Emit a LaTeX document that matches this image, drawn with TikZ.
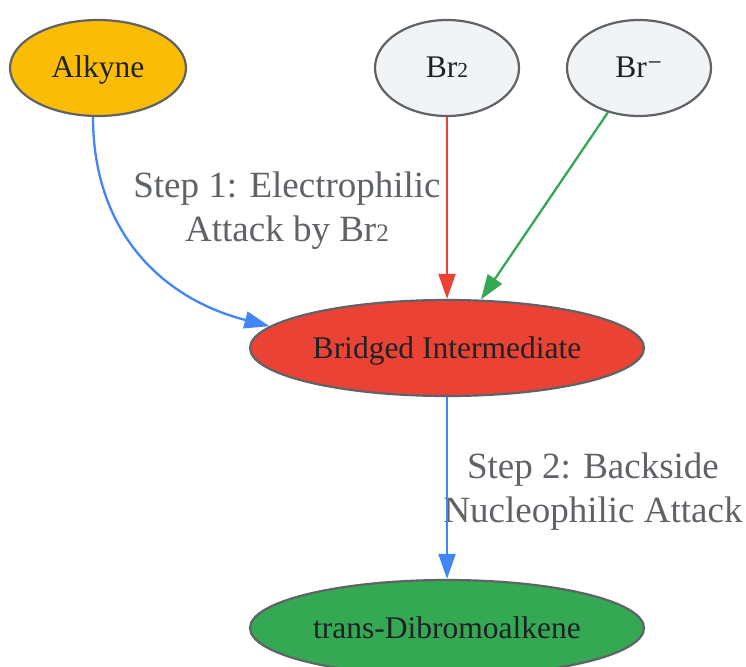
\documentclass[tikz,border=0pt]{standalone}
\usepackage{fontspec}
\setmainfont{Liberation Serif}
\newfontfamily\dvserif{DejaVu Serif}
\usetikzlibrary{shapes.geometric,arrows.meta}
\definecolor{gborder}{HTML}{5F6368}
\definecolor{gtext}{HTML}{202124}
\definecolor{gyellow}{HTML}{FBBC05}
\definecolor{ggrey}{HTML}{F1F3F4}
\definecolor{gred}{HTML}{EA4335}
\definecolor{ggreen}{HTML}{34A853}
\definecolor{gblue}{HTML}{4285F4}
\newcommand{\smalltwo}{{\fontsize{0.68em}{1em}\selectfont 2}}
\tikzset{
  nodebox/.style={ellipse, draw=gborder, line width=2.2pt, inner sep=0pt,
    minimum height=96pt, text=gtext, font=\fontsize{31.5}{37}\selectfont,
    text height=24pt, text depth=4pt},
  steplabel/.style={align=center, text=gborder, font=\fontsize{37}{44}\selectfont, inner sep=0pt},
  conn/.style={line width=2.3pt, -{Triangle[length=25pt,width=17pt]}},
}
\begin{document}
\begin{tikzpicture}[x=1pt,y=-1pt]
\useasboundingbox (0,0) rectangle (746,666);
\node[nodebox, fill=gyellow, minimum width=176pt] (alk) at (98,68) {Alkyne};
\node[nodebox, fill=ggrey, minimum width=144pt] (br2) at (447,68) {Br\smalltwo};
\node[nodebox, fill=ggrey, minimum width=144pt] (brm) at (639,68) {Br{\dvserif\fontsize{30}{30}\selectfont ⁻}};
\node[nodebox, fill=gred, minimum width=394pt] (bri) at (447,348) {Bridged Intermediate};
\node[nodebox, fill=ggreen, minimum width=394pt] (tra) at (447,628) {trans-Dibromoalkene};
\node[steplabel] (l1) at (287,211) {Step 1: Electrophilic\\Attack by Br\smalltwo};
\node[steplabel] (l2) at (593,492) {Step 2: Backside\\Nucleophilic Attack};
\draw[conn, color=gblue] (alk.south -| 93,0) .. controls (93,230) and (160,298) .. (bri.173);
\draw[conn, color=gred] (br2.south) -- (bri.north);
\draw[conn, color=ggreen] (brm.235) -- (bri.55);
\draw[conn, color=gblue] (bri.south) -- (tra.north);
\end{tikzpicture}
\end{document}
